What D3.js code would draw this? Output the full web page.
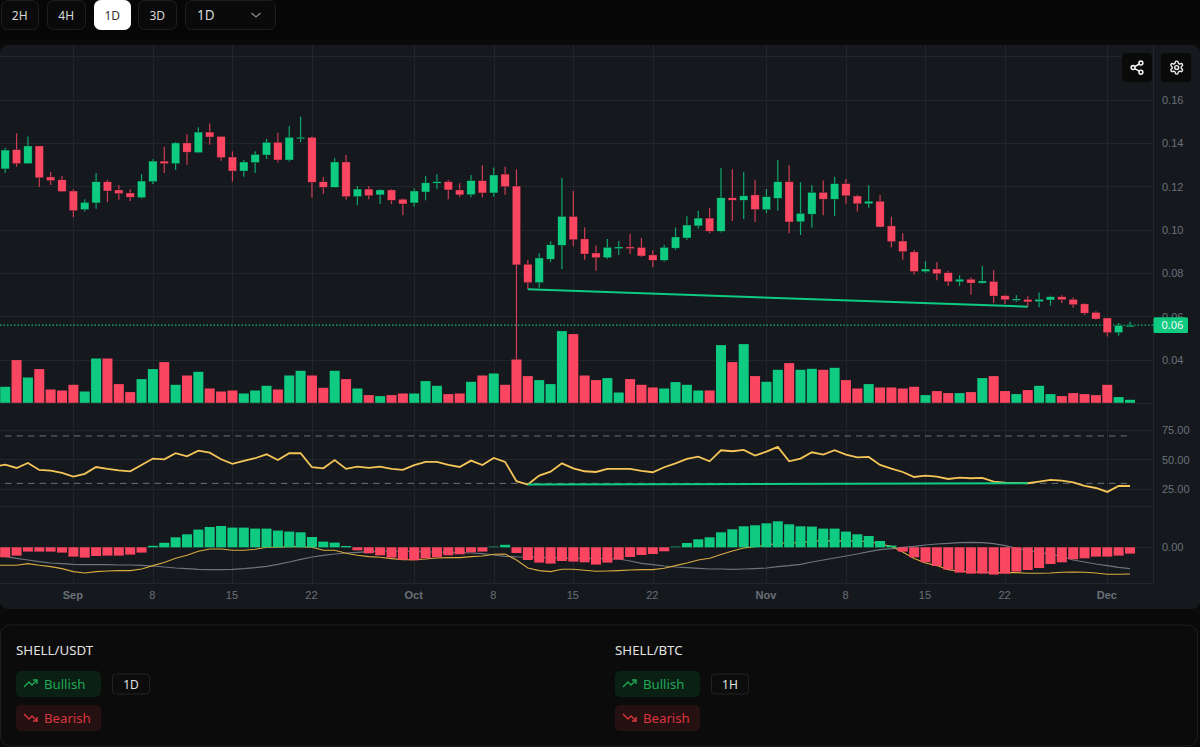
<!DOCTYPE html>
<html>
<head>
<meta charset="utf-8">
<script src="https://cdn.jsdelivr.net/npm/d3@7"></script>
<style>
  html, body { margin: 0; padding: 0; background: #0a0a0a; overflow: hidden; }
  svg { display: block; font-family: "Noto Sans", sans-serif; }
</style>
</head>
<body>
<svg id="chart" viewBox="0 0 1200 747" width="1200" height="747"></svg>
<script>
// candles, one per day from 26 Aug 2025
const opens = [.1282,.1371,.1306,.1388,.1245,.1232,.1180,.1094,.1125,.1223,.1185,.1171,.1149,.1223,.1318,.1306,.1402,.1357,.1452,.1432,
  .1337,.1272,.1311,.1346,.1405,.1323,.1421,.1428,.1223,.1197,.1314,.1154,.1189,.1162,.1185,.1142,.1125,.1175,.1216,.1223,
  .1185,.1163,.1228,.1171,.1258,.1203,.0842,.0757,.0865,.0929,.1063,.0959,.0894,.0872,.0914,.0922,.0920,.0885,.0860,.0916,
  .0963,.1019,.1055,.0994,.1149,.1137,.1162,.1094,.1146,.1223,.1038,.1073,.1174,.1142,.1214,.1157,.1121,.1133,.1019,.0949,
  .0899,.0808,.0820,.0803,.0761,.0773,.0755,.0763,.0697,.0677,.0680,.0669,.0677,.0692,.0680,.0659,.0620,.0594,.0526,.0556];
const highs = [.1380,.1446,.1431,.1388,.1268,.1249,.1189,.1142,.1263,.1232,.1208,.1188,.1258,.1326,.1384,.1406,.1442,.1474,.1492,.1432,
  .1363,.1323,.1363,.1420,.1449,.1480,.1523,.1432,.1245,.1332,.1346,.1203,.1203,.1189,.1189,.1146,.1192,.1249,.1257,.1232,
  .1216,.1254,.1299,.1289,.1292,.1280,.0862,.0893,.0948,.1240,.1180,.1011,.0928,.0959,.0949,.0982,.0963,.0906,.0932,.1011,
  .1063,.1089,.1102,.1286,.1280,.1268,.1232,.1189,.1323,.1299,.1220,.1206,.1228,.1245,.1235,.1163,.1206,.1162,.1061,.0985,
  .0908,.0856,.0851,.0812,.0791,.0782,.0834,.0815,.0701,.0699,.0694,.0711,.0697,.0699,.0689,.0662,.0625,.0594,.0571,.0576];
const lows = [.1264,.1292,.1306,.1199,.1208,.1177,.1059,.1085,.1098,.1129,.1140,.1134,.1145,.1212,.1263,.1277,.1301,.1354,.1394,.1320,
  .1223,.1246,.1263,.1328,.1311,.1315,.1406,.1149,.1166,.1197,.1140,.1115,.1142,.1120,.1120,.1068,.1108,.1137,.1189,.1142,
  .1151,.1151,.1151,.1154,.1163,.0403,.0726,.0734,.0851,.0820,.0925,.0863,.0812,.0866,.0885,.0889,.0875,.0829,.0854,.0908,
  .0954,.1006,.0985,.0989,.1042,.1051,.1037,.1077,.1089,.0985,.0977,.1011,.1068,.1065,.1121,.1085,.1103,.1011,.0920,.0863,
  .0794,.0803,.0768,.0742,.0742,.0701,.0752,.0663,.0659,.0668,.0646,.0643,.0651,.0663,.0641,.0608,.0586,.0508,.0512,.0556];
const closes = [.1369,.1306,.1388,.1241,.1228,.1177,.1089,.1128,.1223,.1180,.1168,.1151,.1226,.1318,.1306,.1402,.1359,.1452,.1429,.1334,
  .1272,.1314,.1349,.1405,.1323,.1428,.1428,.1220,.1197,.1314,.1154,.1189,.1158,.1185,.1137,.1120,.1180,.1218,.1223,.1185,
  .1162,.1228,.1171,.1254,.1200,.0839,.0757,.0871,.0932,.1063,.0955,.0889,.0872,.0920,.0922,.0914,.0880,.0860,.0920,.0968,
  .1023,.1055,.0994,.1149,.1137,.1158,.1094,.1154,.1223,.1037,.1077,.1174,.1142,.1214,.1158,.1121,.1133,.1014,.0946,.0900,
  .0808,.0820,.0798,.0761,.0773,.0755,.0765,.0695,.0678,.0682,.0668,.0680,.0692,.0678,.0655,.0616,.0589,.0526,.0560,.0560];

// volume in millions, colour follows the candle of the same day
const volumes = [16,42.7,25.3,33.7,13.3,12.3,18,11.3,44.3,44.3,18.7,10.7,23.7,33.7,40.7,18,27.3,31,14.3,11.3,
  12.3,9.3,12.3,17,13.3,27.3,32,27.3,15,32,23.7,14.3,7.7,6.7,7.7,9.3,9.3,21.7,17,8.7,
  9.3,21,27.3,29.3,18,43.3,26.7,22.7,18.7,71.7,68.7,27.3,22.7,24.7,10.3,23.7,18,15.3,14.3,20.7,
  18,12.3,12.3,57.7,40.7,58.7,26.7,21,33,39.7,33,34,33,35,22.7,14.3,18.7,15.3,15.3,14.3,
  16,7.7,11.7,9.7,9.7,10.7,24.7,26.7,11.7,8.7,12.7,17,8.7,6.7,9.7,8.7,7.7,18,5.7,3];

const rsi = [45.8,43,47.2,41.3,40.8,38.8,35.7,38,43.8,42.2,41,40.2,45.5,50.9,50.3,55.4,52.8,57.6,55.9,50.3,
  46.4,48.9,51.2,54.5,49.7,55.4,55.4,43.6,42.7,49.7,42.2,44.1,43,44.1,42.2,41.4,45.3,48.1,48.1,45.5,
  43.8,49.2,45.5,51.4,48.1,31.8,29,36.5,39.9,46.9,42.7,40.2,39.6,42.2,42.2,42.2,40.5,39.4,43.6,46.9,
  50.6,52.6,48.6,57.9,57.1,58.2,53.4,56.8,60.7,48.6,50.9,56.2,54.2,57.9,54.2,52,52.3,45.6,42.4,39.6,
  35.4,36.5,35.7,33.7,34.9,34.3,34.6,31.5,30.6,30.4,30.1,31.5,32.9,32.3,30.9,27.8,26.1,22.8,27.8,27.8];

// MACD pane, in units of 0.0001
const macdHist = [-10,-8.3,-4.3,-4.3,-4.3,-5.3,-9.3,-10.3,-8.7,-8.3,-8.3,-7.3,-5.3,1.5,4.5,10,13,17.7,20.3,21.3,
  19.7,19.7,18.7,18.7,16.7,15.7,15,10.3,5.7,4.7,1.3,-3,-6,-8,-10.3,-12.5,-13,-11,-10,-8,
  -7,-5,-4.3,1,2.5,-5.7,-12.7,-15.3,-16.3,-13.7,-14.3,-15,-17.3,-15.3,-12.3,-9.7,-7.7,-6.7,-4,1,
  4.3,8,10,15,18,21,22,24,26,23,21,20.7,18.7,18.7,15.7,13,11.3,6.3,1.7,-4.3,
  -10,-15,-18.7,-22.3,-25.3,-26.3,-26.3,-27.3,-26.3,-24.3,-22.7,-20.7,-16.7,-15,-12,-11,-9.3,-9.3,-8.3,-6.3];
const macdFast = [-18,-18,-16.3,-18,-19.3,-21.3,-24.3,-25.7,-24.3,-23.7,-23.3,-23.3,-21.7,-18.3,-15.3,-11,-8,-4,-1.7,-1.7,
  -3,-3,-2,0,0,.7,.7,0,-3,-3,-6,-8,-9.3,-10,-11.3,-12.5,-12.3,-11.7,-10.7,-10.3,
  -10.3,-9.3,-8.7,-7,-6.7,-12.7,-20.7,-23.3,-24.3,-22,-22,-23,-24,-23.7,-23.3,-22.7,-22.3,-22.3,-21,-18.3,
  -15.7,-12.7,-11,-7.3,-3.7,-.7,.7,2,4,4.3,4.7,6,6.7,6.3,6.7,6,6,3,1,-4.7,
  -11.3,-15.7,-18.3,-22.3,-24,-24.7,-24.7,-25.3,-25.3,-25.3,-26,-26,-25.7,-25,-24.7,-25,-25.7,-27,-27,-26.7];
const macdSlow = [-9,-11,-12.7,-14.3,-15.7,-16.3,-17,-17.3,-17.3,-17.3,-17.7,-17.7,-18,-18.7,-19.7,-20.7,-21.3,-22,-22.3,-22.3,
  -22,-21.3,-20.3,-19,-17,-14.7,-12,-9.7,-8,-6.7,-5.7,-5,-4.3,-3.7,-3.7,-3.7,-4,-4.5,-4.7,-5,
  -5.3,-5.7,-6.3,-7.7,-9,-9.5,-9.7,-10,-10.3,-10.7,-11,-11,-11,-11.3,-11.7,-13.7,-16,-17.3,-18.7,-19.7,
  -20.3,-21,-21.7,-21.7,-22,-21.7,-21.3,-20.7,-19.3,-18.3,-17,-14.7,-12.7,-10.7,-8.7,-6.7,-4.3,-2.3,-1.3,0,
  1,2.3,3.3,4,4.7,5,4.7,3.7,1.7,-1,-3,-5,-7,-9,-12.7,-14.7,-16.7,-18.3,-20,-21.3];

// the day before the first candle, off the left edge, the lines come in from it
const rsiBefore = 44, fastBefore = -18, slowBefore = -7;

// x axis ticks
const monthTicks = ["2025-09-01","2025-10-01","2025-11-01","2025-12-01"];
const dayTicks = ["2025-09-08","2025-09-15","2025-09-22","2025-10-08","2025-10-15","2025-10-22","2025-11-08","2025-11-15","2025-11-22"];
const priceTicks = [0.04,0.06,0.08,0.10,0.12,0.14,0.16,0.18];
const rsiTicks = [25,50,75];
const rsiBands = [70,30];
const lastPrice = 0.0561;

const interval = ["2H","4H","1D","3D"];
const pairs = [{name:"SHELL/USDT",tf:"1D"},{name:"SHELL/BTC",tf:"1H"}];

const GREEN = "#0ecb81", RED = "#fb4661", GRID = "#22262b", LABEL = "#6a7079";

const svg = d3.select("#chart");
const rightEdge = 1153.5;

// page background + chart card
svg.append("rect").attr("width",1200).attr("height",747).attr("fill","#0a0a0a");
svg.append("rect").attr("x",0).attr("y",0).attr("width",1200).attr("height",40).attr("fill","#060606");
svg.append("rect").attr("x",0).attr("y",45).attr("width",1200).attr("height",564).attr("rx",8).attr("fill","#15191e");

const days = d3.range(100);
const parse = d3.utcParse("%Y-%m-%d");
const dates = d3.utcDay.range(parse("2025-08-26"), parse("2025-12-04"));
const dayBefore = parse("2025-08-25");

const x = d3.scaleUtc().domain([dates[0],dates[99]]).range([5.2,1130]);
const yPrice = d3.scaleLinear().domain([0.04,0.16]).range([360,100]);
const yVol = d3.scaleLinear().domain([0,80]).range([402.8,322.8]);
const yRsi = d3.scaleLinear().domain([25,75]).range([489.3,430]);
const yMacd = d3.scaleLinear().domain([-30,30]).range([577.3,517.3]);

const barW = 10, bodyW = 8.4;

// grid
const grid = svg.append("g").attr("stroke",GRID).attr("stroke-width",1).attr("shape-rendering","crispEdges");
monthTicks.concat(dayTicks).forEach(t => {
  const px = Math.round(x(parse(t)));
  grid.append("line").attr("x1",px).attr("x2",px).attr("y1",45).attr("y2",583);
});
priceTicks.forEach(t => grid.append("line").attr("x1",0).attr("x2",rightEdge).attr("y1",yPrice(t)).attr("y2",yPrice(t)));
rsiTicks.forEach(t => grid.append("line").attr("x1",0).attr("x2",rightEdge).attr("y1",yRsi(t)).attr("y2",yRsi(t)));
[403,506,yMacd(0),583].forEach(v => grid.append("line").attr("x1",0).attr("x2",rightEdge).attr("y1",v).attr("y2",v));
grid.append("line").attr("x1",rightEdge).attr("x2",rightEdge).attr("y1",45).attr("y2",583);

// last price dotted line
svg.append("line").attr("x1",0).attr("x2",rightEdge).attr("y1",yPrice(lastPrice)).attr("y2",yPrice(lastPrice))
  .attr("stroke",GREEN).attr("stroke-opacity",.9).attr("stroke-width",1.2).attr("stroke-dasharray","1.5 2");

// candles
const candles = svg.append("g").selectAll("g").data(days).enter().append("g");
candles.append("line")
  .attr("x1",i=>x(dates[i])).attr("x2",i=>x(dates[i]))
  .attr("y1",i=>yPrice(highs[i])).attr("y2",i=>yPrice(lows[i]))
  .attr("stroke",i=>closes[i]>=opens[i]?GREEN:RED).attr("stroke-width",1.2).attr("stroke-opacity",.8);
candles.append("rect")
  .attr("x",i=>x(dates[i])-bodyW/2).attr("width",bodyW)
  .attr("y",i=>yPrice(Math.max(opens[i],closes[i])))
  .attr("height",i=>Math.max(1.5,Math.abs(yPrice(opens[i])-yPrice(closes[i]))))
  .attr("fill",i=>closes[i]>=opens[i]?GREEN:RED)
  .attr("stroke","#0c0e11").attr("stroke-opacity",.6).attr("stroke-width",.6);

// volume bars
svg.append("g").selectAll("rect").data(days).enter().append("rect")
  .attr("x",i=>x(dates[i])-barW/2).attr("width",barW)
  .attr("y",i=>yVol(volumes[i])).attr("height",i=>yVol(0)-yVol(volumes[i]))
  .attr("fill",i=>closes[i]>=opens[i]?GREEN:RED);

// helpers for the lines
const lineXY = (yScale,vals) => d3.line().x(i=>x(dates[i])).y(i=>yScale(vals[i]));
const seriesPath = (yScale,before,vals) => {
  const pts = [[x(dayBefore),yScale(before)]].concat(days.map(i=>[x(dates[i]),yScale(vals[i])]));
  return d3.line()(pts);
};

// trend line on the lows
svg.append("path").attr("d",lineXY(yPrice,lows)([46,90]))
  .attr("fill","none").attr("stroke",GREEN).attr("stroke-width",2);

// rsi bands and line
rsiBands.forEach(b => {
  svg.append("line").attr("x1",5).attr("x2",1130).attr("y1",yRsi(b)).attr("y2",yRsi(b))
    .attr("stroke","#6b7078").attr("stroke-dasharray","6.5 5");
});
svg.append("path").attr("d",seriesPath(yRsi,rsiBefore,rsi))
  .attr("fill","none").attr("stroke","#f5c558").attr("stroke-width",1.8);
svg.append("path").attr("d",lineXY(yRsi,rsi)([46,90]))
  .attr("fill","none").attr("stroke",GREEN).attr("stroke-width",2);

// macd, lines sit behind the histogram
svg.append("path").attr("d",seriesPath(yMacd,slowBefore,macdSlow))
  .attr("fill","none").attr("stroke","#6f747c").attr("stroke-width",1.2);
svg.append("path").attr("d",seriesPath(yMacd,fastBefore,macdFast))
  .attr("fill","none").attr("stroke","#d9aa3f").attr("stroke-width",1.1);
svg.append("g").selectAll("rect").data(days).enter().append("rect")
  .attr("x",i=>x(dates[i])-barW/2).attr("width",barW)
  .attr("y",i=>yMacd(Math.max(0,macdHist[i])))
  .attr("height",i=>Math.abs(yMacd(macdHist[i])-yMacd(0)))
  .attr("fill",i=>macdHist[i]>=0?GREEN:RED)
  .attr("fill-opacity",i=>Math.abs(macdHist[i])<1.2?.55:1);

// axes
const styleAxis = g => {
  g.select(".domain").remove();
  g.selectAll("line").remove();
  g.selectAll("text").attr("fill",LABEL).attr("font-size",11);
};
svg.append("g").attr("transform","translate(1155,0)")
  .call(d3.axisRight(yPrice).tickValues(priceTicks).tickSize(0).tickPadding(7).tickFormat(d3.format(".2f")))
  .call(styleAxis);
svg.append("g").attr("transform","translate(1155,0)")
  .call(d3.axisRight(yRsi).tickValues(rsiTicks).tickSize(0).tickPadding(7).tickFormat(d3.format(".2f")))
  .call(styleAxis);
svg.append("g").attr("transform","translate(1155,0)")
  .call(d3.axisRight(yMacd).tickValues([0]).tickSize(0).tickPadding(7).tickFormat(d3.format(".2f")))
  .call(styleAxis);
svg.append("g").attr("transform","translate(-1,586)")
  .call(d3.axisBottom(x).tickValues(dayTicks.map(parse)).tickSize(0).tickPadding(5).tickFormat(d3.utcFormat("%-d")))
  .call(styleAxis);
svg.append("g").attr("transform","translate(-1,586)")
  .call(d3.axisBottom(x).tickValues(monthTicks.map(parse)).tickSize(0).tickPadding(5).tickFormat(d3.utcFormat("%b")))
  .call(styleAxis)
  .selectAll("text").attr("font-weight",700);

// last price tag
svg.append("rect").attr("x",rightEdge).attr("y",317.3).attr("width",34.5).attr("height",15.6).attr("rx",1.5).attr("fill",GREEN);
svg.append("text").attr("x",1172.5).attr("y",yPrice(lastPrice)+4).attr("text-anchor","middle")
  .attr("font-size",11).attr("fill","#f2f5f4").text(d3.format(".2f")(lastPrice));

// share and settings buttons
const iconBtn = (bx,by) => svg.append("rect").attr("x",bx).attr("y",by).attr("width",30).attr("height",29).attr("rx",4).attr("fill","#0a0a0a");
iconBtn(1122,53);
iconBtn(1161,53);
const share = svg.append("g").attr("transform","translate(1129.2,59.8) scale(.65)")
  .attr("fill","none").attr("stroke","#f0f0f0").attr("stroke-width",2.4);
[[18,5],[6,12],[18,19]].forEach(c => share.append("circle").attr("cx",c[0]).attr("cy",c[1]).attr("r",3));
share.append("path").attr("d","M8.6 13.5l6.8 4M15.4 6.5l-6.8 4");
const gear = svg.append("g").attr("transform","translate(1168.9,59.8) scale(.65)")
  .attr("fill","none").attr("stroke","#f0f0f0").attr("stroke-width",2.2);
gear.append("path").attr("d","M12.22 2h-.44a2 2 0 0 0-2 2v.18a2 2 0 0 1-1 1.73l-.43.25a2 2 0 0 1-2 0l-.15-.08a2 2 0 0 0-2.73.73l-.22.38a2 2 0 0 0 .73 2.73l.15.1a2 2 0 0 1 1 1.72v.51a2 2 0 0 1-1 1.74l-.15.09a2 2 0 0 0-.73 2.73l.22.38a2 2 0 0 0 2.73.73l.15-.08a2 2 0 0 1 2 0l.43.25a2 2 0 0 1 1 1.73V20a2 2 0 0 0 2 2h.44a2 2 0 0 0 2-2v-.18a2 2 0 0 1 1-1.73l.43-.25a2 2 0 0 1 2 0l.15.08a2 2 0 0 0 2.73-.73l.22-.39a2 2 0 0 0-.73-2.73l-.15-.08a2 2 0 0 1-1-1.74v-.5a2 2 0 0 1 1-1.74l.15-.09a2 2 0 0 0 .73-2.73l-.22-.38a2 2 0 0 0-2.73-.73l-.15.08a2 2 0 0 1-2 0l-.43-.25a2 2 0 0 1-1-1.73V4a2 2 0 0 0-2-2z");
gear.append("circle").attr("cx",12).attr("cy",12).attr("r",3);

// timeframe buttons
const btnX = [[1,38],[47,39],[94,37],[138,39]];
interval.forEach((t,i) => {
  const on = t==="1D";
  svg.append("rect").attr("x",btnX[i][0]+.5).attr("y",.5).attr("width",btnX[i][1]-1).attr("height",29)
    .attr("rx",6).attr("fill",on?"#ffffff":"#0a0a0a").attr("stroke",on?"#ffffff":"#1e1e1e");
  svg.append("text").attr("x",btnX[i][0]+btnX[i][1]/2-.3).attr("y",19.5).attr("text-anchor","middle")
    .attr("font-size",12).attr("fill",on?"#333":"#d8d8d8").text(t);
});
svg.append("rect").attr("x",185.5).attr("y",.5).attr("width",90).attr("height",29).attr("rx",6).attr("fill","#0a0a0a").attr("stroke","#1e1e1e");
svg.append("text").attr("x",197).attr("y",20).attr("font-size",13.5).attr("fill","#d8d8d8").text("1D");
svg.append("path").attr("d","M251.5 13l4.5 4 4.5-4").attr("fill","none").attr("stroke","#8a8a8a").attr("stroke-width",1.3);

// signal card
svg.append("rect").attr("x",.5).attr("y",625).attr("width",1197).attr("height",121).attr("rx",10)
  .attr("fill","#0b0b0b").attr("stroke","#1f1f1f");
pairs.forEach((p,i) => {
  const ox = i===0?16:615;
  const tfW = 37;
  svg.append("text").attr("x",ox).attr("y",655).attr("font-size",13.3).attr("fill","#e2e2e2").text(p.name);
  // bullish
  svg.append("rect").attr("x",ox).attr("y",671).attr("width",85).attr("height",26).attr("rx",5).attr("fill","#0a2015");
  svg.append("polyline").attr("points",[[ox+8,687],[ox+13,682],[ox+16,685],[ox+21,680]].join(" "))
    .attr("fill","none").attr("stroke","#20a855").attr("stroke-width",1.4);
  svg.append("polyline").attr("points",[[ox+17,680],[ox+21,680],[ox+21,684]].join(" "))
    .attr("fill","none").attr("stroke","#20a855").attr("stroke-width",1.4);
  svg.append("text").attr("x",ox+28).attr("y",689).attr("font-size",13.2).attr("fill","#20a855").text("Bullish");
  // bearish
  svg.append("rect").attr("x",ox).attr("y",705).attr("width",85).attr("height",26).attr("rx",5).attr("fill","#261112");
  svg.append("polyline").attr("points",[[ox+8,714],[ox+13,719],[ox+16,716],[ox+21,721]].join(" "))
    .attr("fill","none").attr("stroke","#d9363e").attr("stroke-width",1.4);
  svg.append("polyline").attr("points",[[ox+17,721],[ox+21,721],[ox+21,717]].join(" "))
    .attr("fill","none").attr("stroke","#d9363e").attr("stroke-width",1.4);
  svg.append("text").attr("x",ox+28).attr("y",723).attr("font-size",13.2).attr("fill","#d9363e").text("Bearish");
  // timeframe chip
  svg.append("rect").attr("x",ox+96.5).attr("y",674).attr("width",tfW).attr("height",20).attr("rx",3).attr("fill","#0c0c0c").attr("stroke","#222");
  svg.append("text").attr("x",ox+96.5+tfW/2).attr("y",688.5).attr("text-anchor","middle").attr("font-size",12).attr("fill","#e2e2e2").text(p.tf);
});
</script>
</body>
</html>
